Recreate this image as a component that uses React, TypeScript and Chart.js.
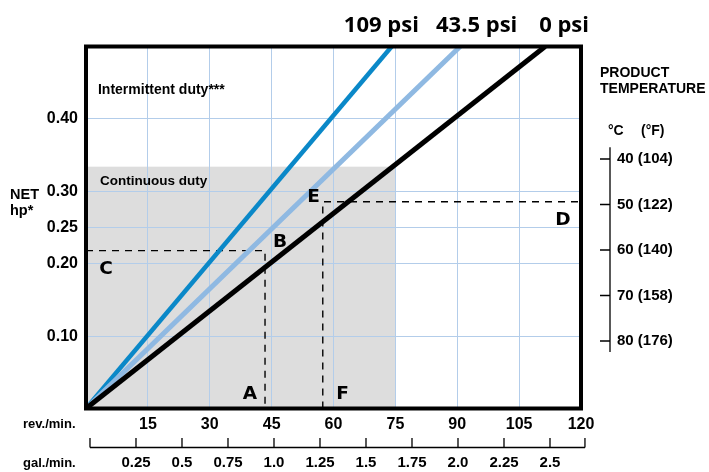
import React, { useEffect, useRef } from 'react';
import { Chart, registerables } from 'chart.js';

Chart.register(...registerables);

// ---- data ----
const rpmTicks = [15, 30, 45, 60, 75, 90, 105, 120];
const galTicks = [0.25, 0.5, 0.75, 1.0, 1.25, 1.5, 1.75, 2.0, 2.25, 2.5];
const galTickLabels = ['0.25', '0.5', '0.75', '1.0', '1.25', '1.5', '1.75', '2.0', '2.25', '2.5'];
const hpTicks = [0.1, 0.2, 0.25, 0.3, 0.4];
const hpTickLabels = ['0.10', '0.20', '0.25', '0.30', '0.40'];
const tempC = [40, 50, 60, 70, 80];
const tempF = [104, 122, 140, 158, 176];
const pressureLabels = ['109 psi', '43.5 psi', '0 psi'];
const rpmAtTopHp = [74.1, 90.7, 111.3]; // rpm where each pressure line reaches the top (0.5 hp)
const topHp = 0.5;
const continuousRpm = 75;
const continuousHp = 0.334;
const exampleA_rpm = 43.4;
const exampleC_hp = 0.218;
const exampleF_rpm = 57.4;
const exampleD_hp = 0.2856;

// axis ranges
const rpmMin = 0;
const rpmMax = 120;
const galMin = -0.0217;
const galMax = 2.6685;
const galBracketEnd = 2.69;
const tempMin = 15.27;
const tempMax = 94.84;

const lineColors = ['#0a88c8', '#8fb9e2', '#000000'];
const lineWidths = [4.5, 5, 5];
const gridColor = '#b3cdea';
const SANS = '"Liberation Sans", Arial, Helvetica, sans-serif';

// annotations (data coordinates)
const letters = [
  { t: 'A', x: 39.76, y: 0.0204 },
  { t: 'F', x: 62.18, y: 0.0204 },
  { t: 'B', x: 47.03, y: 0.23 },
  { t: 'C', x: 4.85, y: 0.1927 },
  { t: 'E', x: 55.15, y: 0.2921 },
  { t: 'D', x: 115.6, y: 0.2604 },
];
const pressureLabelRpm = [71.6, 94.7, 115.9];

const decor = {
  id: 'decor',
  beforeDraw(chart: any) {
    const { ctx, scales } = chart;
    const x = scales.x, y = scales.y;
    ctx.save();
    ctx.fillStyle = '#dddddd';
    const x0 = x.getPixelForValue(0), x1 = x.getPixelForValue(continuousRpm);
    const y0 = y.getPixelForValue(0), y1 = y.getPixelForValue(continuousHp);
    ctx.fillRect(x0, y1, x1 - x0, y0 - y1);
    ctx.restore();
  },
  afterDraw(chart: any) {
    const { ctx, chartArea: a, scales } = chart;
    const x = scales.x, y = scales.y, g = scales.x2, t = scales.temp;
    ctx.save();
    // frame
    ctx.strokeStyle = '#000';
    ctx.lineWidth = 4;
    ctx.strokeRect(a.left, a.top, a.right - a.left, a.bottom - a.top);

    ctx.fillStyle = '#000';
    ctx.textBaseline = 'middle';

    // letters
    ctx.textAlign = 'center';
    ctx.font = `bold 18.5px "DejaVu Sans", ${SANS}`;
    letters.forEach((l) => ctx.fillText(l.t, x.getPixelForValue(l.x), y.getPixelForValue(l.y)));

    // duty labels
    ctx.textAlign = 'left';
    ctx.font = `bold 14px ${SANS}`;
    ctx.fillText('Intermittent duty***', x.getPixelForValue(2.9), y.getPixelForValue(0.44));
    ctx.font = `bold 13.5px ${SANS}`;
    ctx.fillText('Continuous duty', x.getPixelForValue(3.4), y.getPixelForValue(0.3142));

    // pressure labels
    ctx.textAlign = 'center';
    ctx.font = `bold 22px "Open Sans", ${SANS}`;
    pressureLabels.forEach((p, i) => ctx.fillText(p, x.getPixelForValue(pressureLabelRpm[i]), a.top - 21));

    // left labels
    ctx.textAlign = 'left';
    ctx.font = `bold 14.5px ${SANS}`;
    ctx.fillText('NET', 10, 195);
    ctx.fillText('hp*', 10, 211);
    ctx.font = `bold 13px ${SANS}`;
    ctx.fillText('rev./min.', 23, 424);
    ctx.fillText('gal./min.', 23, 463);

    // right labels
    ctx.font = `bold 14px ${SANS}`;
    ctx.fillText('PRODUCT', a.right + 19, 73);
    ctx.fillText('TEMPERATURE', a.right + 19, 89);
    ctx.fillText('°C', a.right + 27, 131);
    ctx.fillText('(°F)', a.right + 60, 131);

    // temperature axis line and ticks
    ctx.lineWidth = 1.3;
    const lx = a.right + 29;
    ctx.beginPath();
    ctx.moveTo(lx, t.getPixelForValue(37.4));
    ctx.lineTo(lx, t.getPixelForValue(82.4));
    tempC.forEach((c) => {
      const py = t.getPixelForValue(c);
      ctx.moveTo(lx - 10, py);
      ctx.lineTo(lx, py);
    });
    ctx.stroke();

    // gal/min bracket
    const by = g.top + 11;
    ctx.beginPath();
    ctx.moveTo(g.getPixelForValue(0), by);
    ctx.lineTo(g.getPixelForValue(galBracketEnd), by);
    [0, ...galTicks, galBracketEnd].forEach((v) => {
      const px = g.getPixelForValue(v);
      ctx.moveTo(px, by);
      ctx.lineTo(px, by - 9.5);
    });
    ctx.stroke();
    ctx.restore();
  },
};

export default function App() {
  const ref = useRef<HTMLCanvasElement | null>(null);
  useEffect(() => {
    document.body.style.margin = '0';
    if (!ref.current) return;
    const lineSets = [2, 1, 0].map((i) => ({
      label: pressureLabels[i],
      data: [{ x: 0, y: 0 }, { x: rpmAtTopHp[i], y: topHp }],
      borderColor: lineColors[i],
      borderWidth: lineWidths[i],
      pointRadius: 0,
      tension: 0,
      xAxisID: 'x',
      yAxisID: 'y',
    }));
    const dash = {
      borderColor: '#000',
      borderWidth: 1.4,
      borderDash: [7, 6],
      pointRadius: 0,
      tension: 0,
      xAxisID: 'x',
      yAxisID: 'y',
    };
    const chart = new Chart(ref.current, {
      type: 'line',
      data: {
        datasets: [
          ...lineSets,
          { ...dash, label: 'C-B-A', data: [{ x: 0, y: exampleC_hp }, { x: exampleA_rpm, y: exampleC_hp }, { x: exampleA_rpm, y: 0 }] },
          { ...dash, label: 'F-E-D', data: [{ x: exampleF_rpm, y: 0 }, { x: exampleF_rpm, y: exampleD_hp }, { x: rpmMax, y: exampleD_hp }] },
        ] as any,
      },
      options: {
        animation: false,
        responsive: true,
        maintainAspectRatio: false,
        layout: { padding: { top: 46.5, left: 0, right: 0, bottom: 0 } },
        plugins: { legend: { display: false }, tooltip: { enabled: false } },
        scales: {
          x: {
            type: 'linear',
            position: 'bottom',
            weight: 0,
            min: rpmMin,
            max: rpmMax,
            afterBuildTicks: (s: any) => { s.ticks = rpmTicks.map((v) => ({ value: v })); },
            afterFit: (s: any) => { s.height = 28; },
            grid: { color: gridColor, lineWidth: 1, drawTicks: false },
            border: { display: false },
            ticks: {
              font: { weight: 'bold', size: 16, family: SANS },
              color: '#000',
              padding: 6,
              autoSkip: false,
              maxRotation: 0,
              callback: (_v: any, i: number) => String(rpmTicks[i]),
            },
          },
          x2: {
            type: 'linear',
            position: 'bottom',
            weight: 1,
            min: galMin,
            max: galMax,
            afterBuildTicks: (s: any) => { s.ticks = galTicks.map((v) => ({ value: v })); },
            afterFit: (s: any) => { s.height = 35.5; },
            grid: { display: false, drawTicks: false },
            border: { display: false },
            ticks: {
              font: { weight: 'bold', size: 15, family: SANS },
              color: '#000',
              padding: 17.5,
              autoSkip: false,
              maxRotation: 0,
              callback: (_v: any, i: number) => galTickLabels[i],
            },
          },
          y: {
            type: 'linear',
            position: 'left',
            min: 0,
            max: topHp,
            afterBuildTicks: (s: any) => { s.ticks = hpTicks.map((v) => ({ value: v })); },
            afterFit: (s: any) => { s.width = 86; },
            grid: { color: gridColor, lineWidth: 1, drawTicks: false },
            border: { display: false },
            ticks: {
              font: { weight: 'bold', size: 16, family: SANS },
              color: '#000',
              padding: 8,
              autoSkip: false,
              callback: (_v: any, i: number) => hpTickLabels[i],
            },
          },
          temp: {
            type: 'linear',
            position: 'right',
            reverse: true,
            min: tempMin,
            max: tempMax,
            afterBuildTicks: (s: any) => { s.ticks = tempC.map((v) => ({ value: v })); },
            afterFit: (s: any) => { s.width = 128; },
            grid: { display: false, drawTicks: false },
            border: { display: false },
            ticks: {
              font: { weight: 'bold', size: 15, family: SANS },
              color: '#000',
              padding: 36,
              autoSkip: false,
              callback: (_v: any, i: number) => `${tempC[i]} (${tempF[i]})`,
            },
          },
        },
      } as any,
      plugins: [decor],
    });
    return () => chart.destroy();
  }, []);
  return (
    <div style={{ position: 'relative', width: 709, height: 472 }}>
      <canvas ref={ref} />
    </div>
  );
}
